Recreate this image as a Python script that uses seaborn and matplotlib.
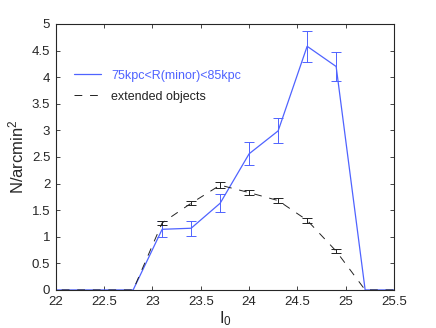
import numpy as np
import pandas as pd
import matplotlib
matplotlib.use("Agg")
import matplotlib.pyplot as plt
import seaborn as sns

# --------------------------------------------------
# DATA
# --------------------------------------------------

mag = [21.9, 22.2, 22.5, 22.8, 23.1, 23.4, 23.7, 24.0, 24.3, 24.6, 24.9, 25.2, 25.5]

minor_n = [0, 0, 0, 0, 1.14, 1.16, 1.63, 2.56, 2.99, 4.58, 4.20, 0, 0]
minor_lo = [0, 0, 0, 0, 0.99, 1.01, 1.46, 2.35, 2.76, 4.29, 3.93, 0, 0]
minor_hi = [0, 0, 0, 0, 1.30, 1.30, 1.80, 2.78, 3.23, 4.86, 4.47, 0, 0]

ext_n = [0, 0, 0, 0, 1.26, 1.63, 1.97, 1.83, 1.68, 1.31, 0.73, 0, 0]
ext_lo = [0, 0, 0, 0, 1.22, 1.59, 1.92, 1.78, 1.63, 1.26, 0.69, 0, 0]
ext_hi = [0, 0, 0, 0, 1.30, 1.68, 2.02, 1.87, 1.73, 1.36, 0.77, 0, 0]

err_idx = [4, 5, 6, 7, 8, 9, 10]

BLUE = "#4f63ff"

# --------------------------------------------------
# PLOT
# --------------------------------------------------

sns.set_style("ticks")
plt.rcParams["font.family"] = ["Liberation Sans", "DejaVu Sans"]
plt.rcParams["mathtext.fontset"] = "custom"
plt.rcParams["mathtext.rm"] = "Liberation Sans"
plt.rcParams["mathtext.it"] = "Liberation Sans"

df = pd.DataFrame({"mag": mag, "minor": minor_n, "ext": ext_n})

fig = plt.figure(figsize=(4.36, 3.28), dpi=100)
ax = fig.add_axes([0.128, 0.116, 0.776, 0.811])

sns.lineplot(data=df, x="mag", y="minor", ax=ax, color=BLUE, lw=0.9,
             label="75kpc<R(minor)<85kpc")
sns.lineplot(data=df, x="mag", y="ext", ax=ax, color="#222222", lw=0.7,
             linestyle="--", label="extended objects")
ax.lines[1].set_dashes((8, 8))

for n, lo, hi, c in [(minor_n, minor_lo, minor_hi, BLUE),
                     (ext_n, ext_lo, ext_hi, "#222222")]:
    x = np.array(mag)[err_idx]
    y = np.array(n)[err_idx]
    yerr = [y - np.array(lo)[err_idx], np.array(hi)[err_idx] - y]
    ax.errorbar(x, y, yerr=yerr, fmt="none", ecolor=c, elinewidth=0.7,
                capsize=3.6, capthick=0.7)

ax.set_xlim(22, 25.5)
ax.set_ylim(0, 5)
ax.set_xticks(np.arange(22, 25.51, 0.5))
ax.set_xticklabels(["22", "22.5", "23", "23.5", "24", "24.5", "25", "25.5"])
ax.set_yticks(np.arange(0, 5.01, 0.5))
ax.set_yticklabels(["0", "0.5", "1", "1.5", "2", "2.5", "3", "3.5", "4", "4.5", "5"])
ax.tick_params(direction="in", top=True, right=True, labelsize=9.5, length=3,
               width=0.6)
ax.tick_params(axis="y", pad=4)
ax.tick_params(axis="x", pad=4)
for s in ax.spines.values():
    s.set_linewidth(0.8)

ax.set_xlabel("I$_0$", fontsize=12, labelpad=1)
ax.set_ylabel("N/arcmin$^2$", fontsize=12, labelpad=4)

leg = ax.legend(loc="upper left", bbox_to_anchor=(0.02, 0.87), frameon=False,
                fontsize=9, handlelength=2.2, labelspacing=0.7,
                labelcolor=[BLUE, "#222222"])

fig.savefig("out.png", dpi=100)
